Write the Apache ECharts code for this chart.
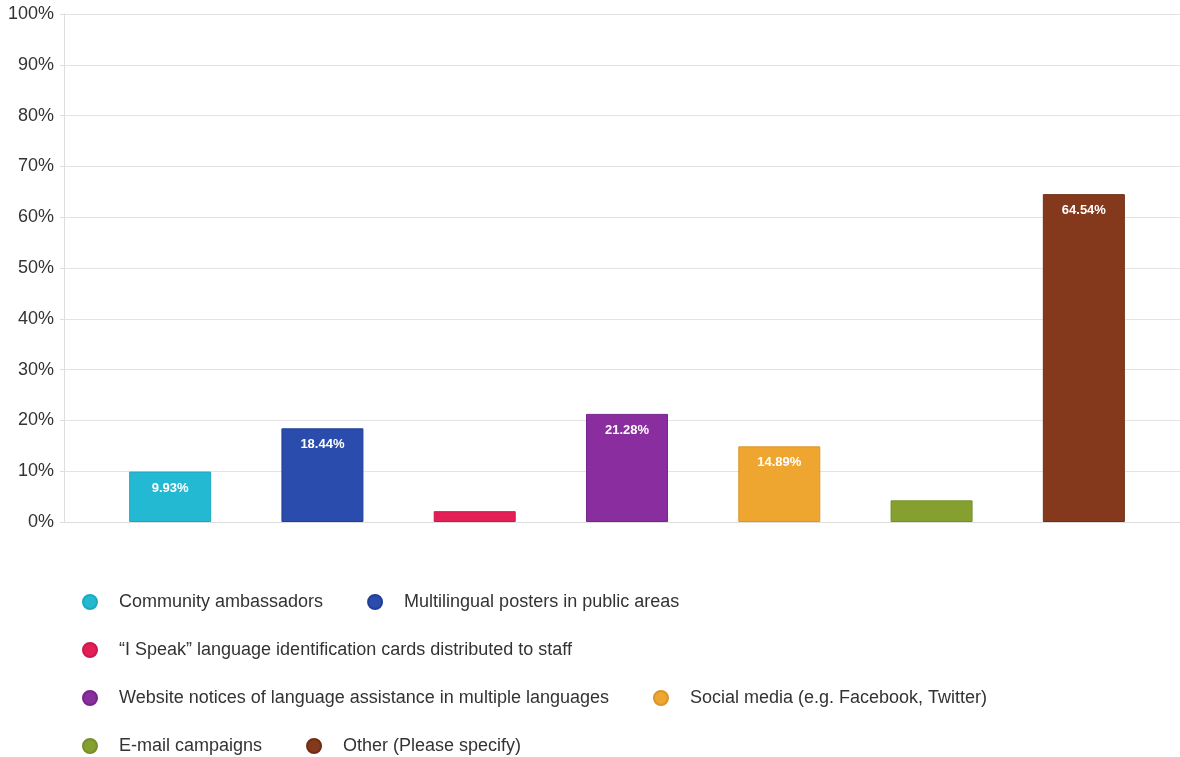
<!DOCTYPE html>
<html>
<head>
<meta charset="utf-8">
<script src="https://cdn.jsdelivr.net/npm/echarts@6/dist/echarts.min.js"></script>
<style>
  html, body { margin: 0; padding: 0; background: #ffffff; }
  #chart { width: 1180px; height: 757px; }
</style>
</head>
<body>
<div id="chart"></div>
<script>
// Survey answers: share of respondents choosing each outreach method
const categories = [
  'Community ambassadors',
  'Multilingual posters in public areas',
  '\u201cI Speak\u201d language identification cards distributed to staff',
  'Website notices of language assistance in multiple languages',
  'Social media (e.g. Facebook, Twitter)',
  'E-mail campaigns',
  'Other (Please specify)'
];
const values = [9.93, 18.44, 2.13, 21.28, 14.89, 4.26, 64.54];
const colors = ['#23B9D3', '#2A4CAD', '#E41F57', '#8A2D9F', '#EFA630', '#86A02F', '#85391C'];
const borders = ['#1FA8C0', '#213F96', '#C91A4C', '#762589', '#D9952A', '#74902A', '#6E2D14'];

// Legend rows (indices into categories)
const legendRows = [[0, 1], [2], [3, 4], [5, 6]];

// Percent axis 0..100 in steps of 10
const yMin = 0, yMax = 100, yStep = 10;

const FONT = '"Liberation Sans", Arial, Helvetica, sans-serif';

const chart = echarts.init(document.getElementById('chart'), null, { renderer: 'canvas' });

const series = categories.map((name, i) => ({
  name: name,
  type: 'bar',
  xAxisIndex: 1,
  yAxisIndex: 1,
  barWidth: 82,
  barGap: '-100%',
  itemStyle: { color: colors[i], borderColor: borders[i], borderWidth: 1 },
  label: {
    show: values[i] >= 8,
    position: 'insideTop',
    distance: 10,
    color: '#ffffff',
    fontFamily: FONT,
    fontSize: 13,
    fontWeight: 'bold',
    formatter: (p) => p.value.toFixed(2) + '%'
  },
  data: categories.map((c, j) => (j === i ? values[i] : null))
}));

const legends = legendRows.map((row, r) => ({
  data: row.map((i) => categories[i]),
  left: 77,
  top: 588 + r * 48,
  orient: 'horizontal',
  icon: 'circle',
  itemWidth: 28,
  itemHeight: 14,
  itemGap: 44,
  textStyle: {
    color: '#333333', fontFamily: FONT, fontSize: 18,
    padding: [0, 0, 0, 10]
  }
}));

chart.setOption({
  animation: false,
  backgroundColor: '#ffffff',
  grid: [
    { left: 64, right: 0, top: 14, bottom: 235 },
    { left: 94, right: 20, top: 14, bottom: 235 }
  ],
  xAxis: [
    {
      gridIndex: 0, type: 'category', data: categories,
      axisLine: { show: true, lineStyle: { color: '#dddddd' } },
      axisTick: { show: false }, axisLabel: { show: false }, splitLine: { show: false }
    },
    {
      gridIndex: 1, type: 'category', data: categories,
      axisLine: { show: false }, axisTick: { show: false }, axisLabel: { show: false }
    }
  ],
  yAxis: [
    {
      gridIndex: 0, type: 'value', min: yMin, max: yMax, interval: yStep,
      axisLine: { show: true, lineStyle: { color: '#dddddd' } },
      axisTick: { show: true, length: 4, lineStyle: { color: '#dddddd' } },
      splitLine: { show: true, lineStyle: { color: '#e3e3e3' } },
      axisLabel: {
        formatter: '{value}%', margin: 10,
        color: '#333333', fontFamily: FONT, fontSize: 18
      }
    },
    {
      gridIndex: 1, type: 'value', min: yMin, max: yMax, interval: yStep, show: false
    }
  ],
  legend: legends,
  series: series
});
</script>
</body>
</html>
